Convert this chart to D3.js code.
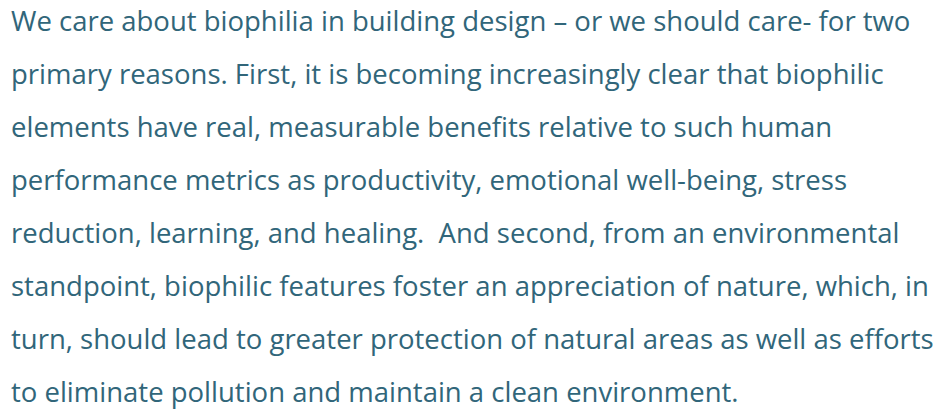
<!DOCTYPE html>
<html>
<head>
<meta charset="utf-8">
<script src="https://cdn.jsdelivr.net/npm/d3@7"></script>
<style>
  body { margin: 0; background: #fff; }
</style>
</head>
<body>
<div id="main"></div>
<script>
// paragraph lines, as wrapped in the original
const lines = [
  "We care about biophilia in building design \u2013 or we should care- for two",
  "primary reasons. First, it is becoming increasingly clear that biophilic",
  "elements have real, measurable benefits relative to such human",
  "performance metrics as productivity, emotional well-being, stress",
  "reduction, learning, and healing.  And second, from an environmental",
  "standpoint, biophilic features foster an appreciation of nature, which, in",
  "turn, should lead to greater protection of natural areas as well as efforts",
  "to eliminate pollution and maintain a clean environment."
];
const lineIndex = d3.range(lines.length);

const c = {width: 940, height: 411, left: 11, top: 31, step: 53};

const svg = d3.select("#main")
  .append("svg")
  .attr("width", c.width)
  .attr("height", c.height);

const y = d3.scaleLinear()
  .domain([0, lines.length - 1])
  .range([c.top, c.top + c.step * (lines.length - 1)]);

svg.append("g")
  .selectAll("text")
  .data(lineIndex)
  .join("text")
  .attr("x", c.left)
  .attr("y", i => y(i))
  .attr("font-family", "'Open Sans', sans-serif")
  .attr("font-size", 27.5)
  .attr("fill", "#31667a")
  .style("white-space", "pre")
  .text(i => lines[i]);
</script>
</body>
</html>
